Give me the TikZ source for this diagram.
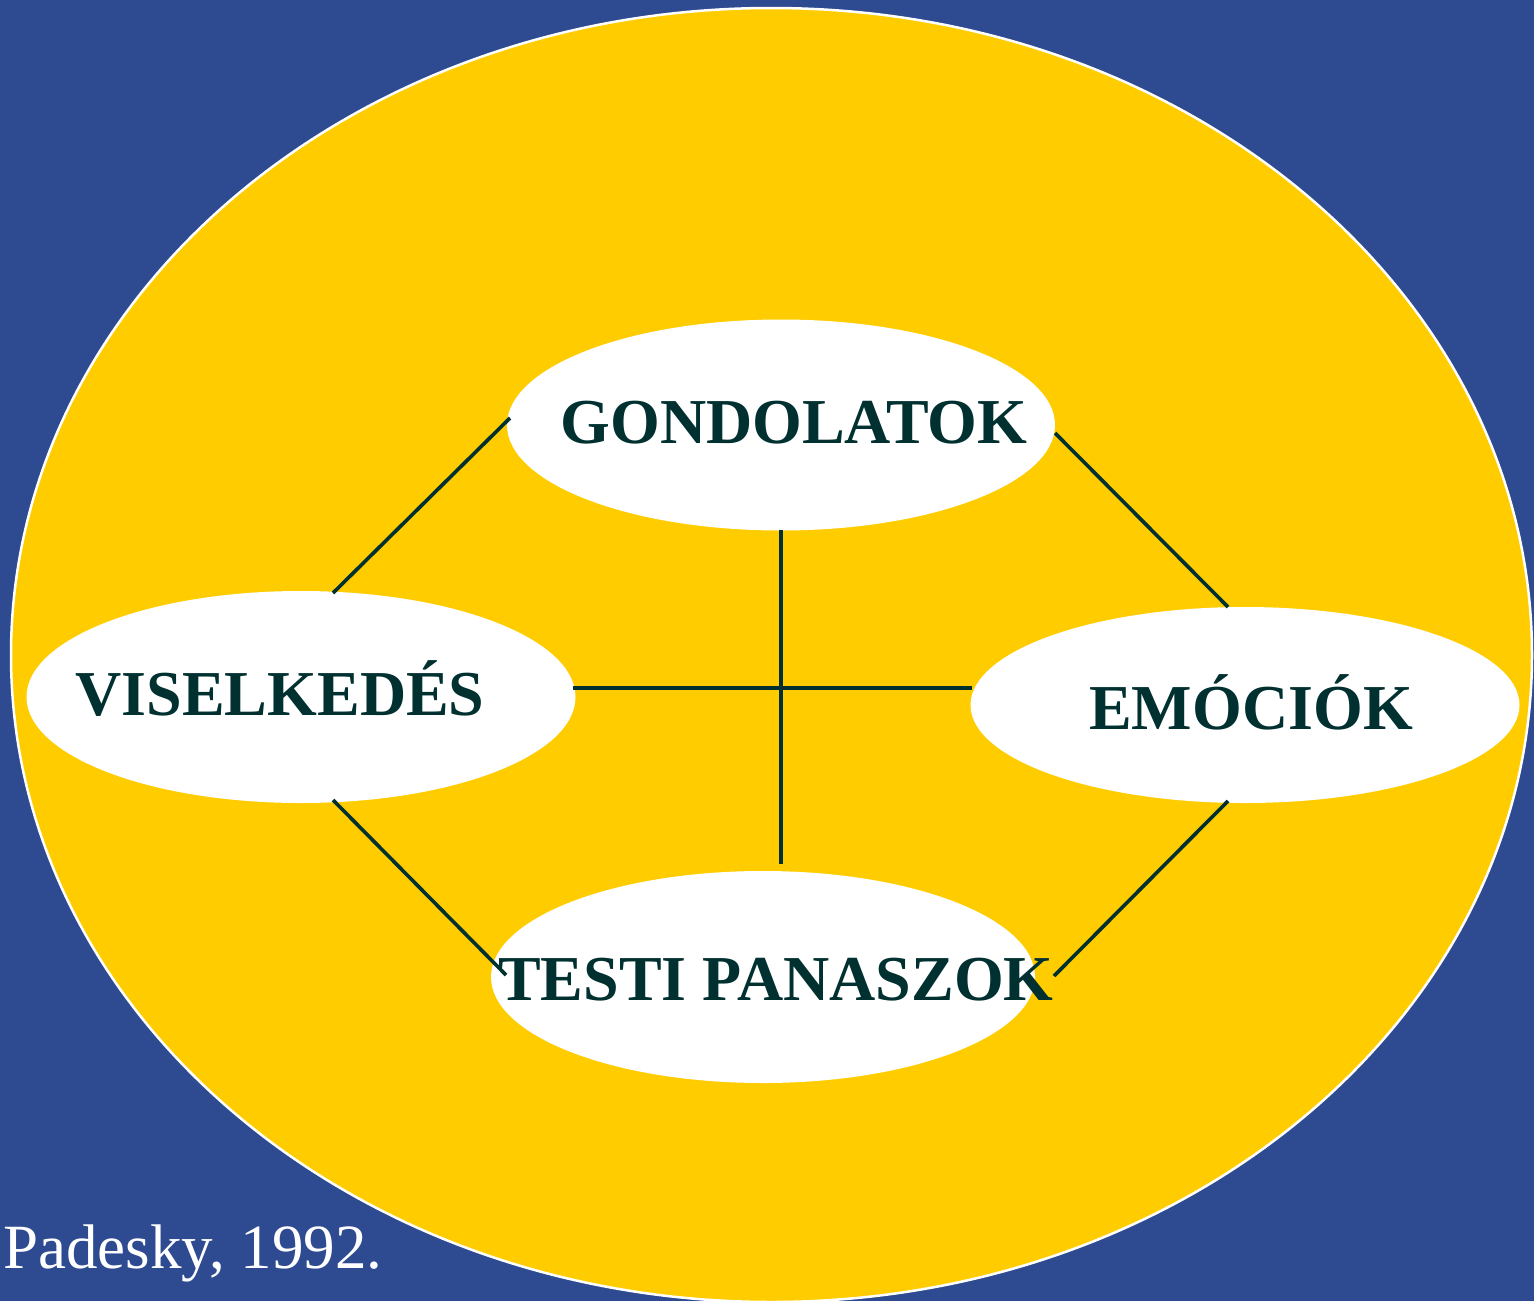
\documentclass[tikz,border=0pt]{standalone}
\usepackage{fontspec}
\setmainfont{Liberation Serif}
\usetikzlibrary{shapes.geometric}
\definecolor{bgblue}{RGB}{46,74,145}
\definecolor{ygold}{RGB}{255,204,0}
\definecolor{ink}{RGB}{0,48,48}
\begin{document}
\begin{tikzpicture}[x=1pt,y=-1pt,
  oval/.style={ellipse, fill=white, draw=none, inner sep=0pt},
  lbl/.style={anchor=base, text=ink, font=\fontsize{64}{70}\selectfont\bfseries, inner sep=0pt},
  link/.style={draw=ink, line width=3.6pt}]
\useasboundingbox (0,0) rectangle (1534,1301);
\fill[bgblue] (0,0) rectangle (1534,1301);
\begin{scope}
\clip (0,0) rectangle (1534,1301);
\draw[fill=ygold, draw=white, line width=2.5pt] (771.5,655) ellipse [x radius=760.5, y radius=647];
\end{scope}
\node[oval, minimum width=548pt, minimum height=211pt] (g) at (781,425) {};
\node[oval, minimum width=549pt, minimum height=212pt] (v) at (301,697) {};
\node[oval, minimum width=549pt, minimum height=196pt] (e) at (1245,705) {};
\node[oval, minimum width=544pt, minimum height=212pt] (t) at (763,977) {};
\coordinate (g1) at (510,418);
\coordinate (v1) at (333,593);
\coordinate (g2) at (1055,433);
\coordinate (e1) at (1228,607);
\coordinate (v2) at (333,800);
\coordinate (t1) at (506,975);
\coordinate (e2) at (1228,801);
\coordinate (t2) at (1054,976);
\coordinate (g3) at (781,530);
\coordinate (t3) at (781,864);
\coordinate (v3) at (573,688);
\coordinate (e3) at (972,688);
\draw[link] (g1) -- (v1);
\draw[link] (g2) -- (e1);
\draw[link] (v2) -- (t1);
\draw[link] (e2) -- (t2);
\draw[link] (g3) -- (t3);
\draw[link] (v3) -- (e3);
\node[lbl] (gl) at (794,443) {GONDOLATOK};
\node[lbl] (vl) at (280,715) {VISELKEDÉS};
\node[lbl] (el) at (1251,729) {EMÓCIÓK};
\node[lbl] (tl) at (776,1000) {TESTI PANASZOK};
\node[anchor=base west, text=white, inner sep=0pt, font=\fontsize{63}{70}\selectfont] (cite) at (3,1268) {Padesky, 1992.};
\end{tikzpicture}
\end{document}
